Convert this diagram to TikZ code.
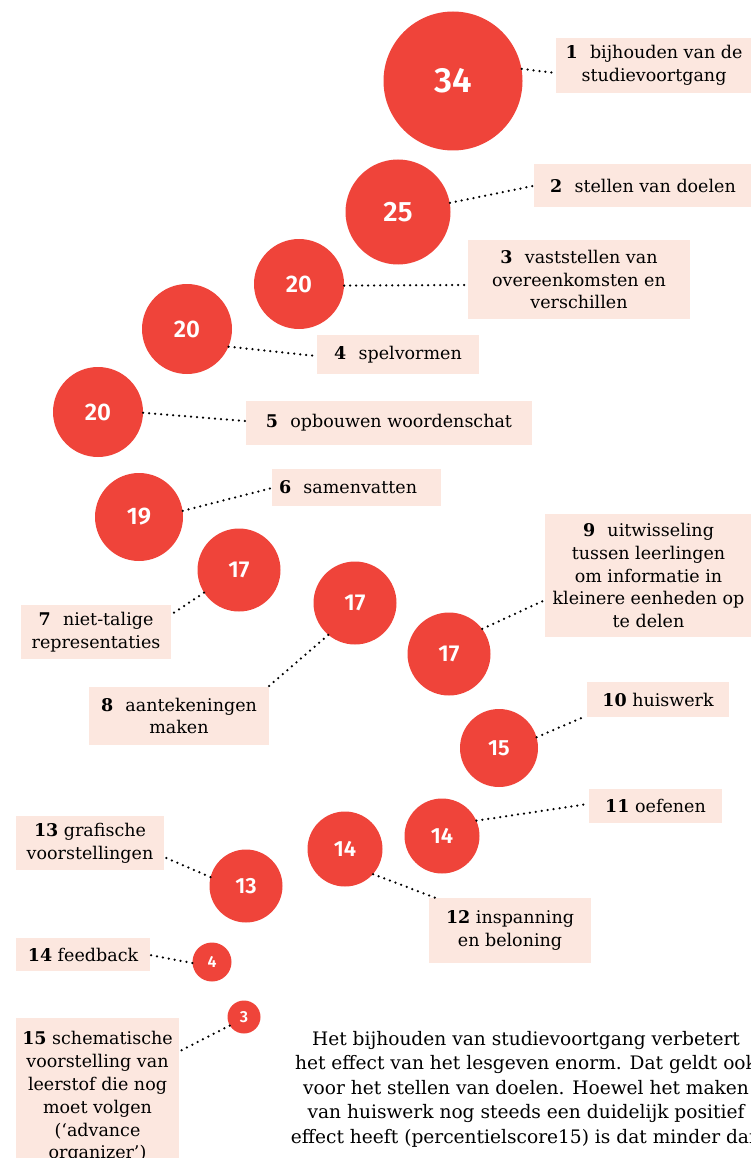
\documentclass[tikz,border=0pt]{standalone}
\usepackage{fontspec}
\setmainfont{DejaVu Serif}
\newfontfamily\numfont{Fira Sans SemiBold}

\definecolor{dotred}{HTML}{EF443A}
\definecolor{tagbg}{HTML}{FCE7DF}

\newcommand\nr[1]{\textbf{#1}}
\newcommand\gap{\hspace{0.7em}}

\tikzset{
  bubble/.style n args={2}{circle, fill=dotred, inner sep=0pt,
    minimum size=#1, text=white,
    font=\numfont\fontsize{#2}{#2}\selectfont},
  tag/.style n args={2}{fill=tagbg, align=center, inner sep=0pt,
    minimum width=#1, minimum height=#2,
    font=\fontsize{17.5}{22.8}\selectfont},
  leader/.style={line width=2.5pt, dash pattern=on 0pt off 6pt,
    line cap=round},
  prose/.style={align=center, inner sep=0pt,
    font=\fontsize{18.6}{24.5}\selectfont},
}

\begin{document}
\begin{tikzpicture}[x=1pt, y=-1pt]
  \useasboundingbox (0,0) rectangle (751,1158);
  \clip (0,0) rectangle (751,1158);

  % effect bubbles
  \node[bubble={139pt}{35}] (c1)  at (453,81)   {34};
  \node[bubble={105pt}{28}] (c2)  at (398,212)  {25};
  \node[bubble={90pt}{24}]  (c3)  at (299,284)  {20};
  \node[bubble={90pt}{24}]  (c4)  at (187,329)  {20};
  \node[bubble={90pt}{24}]  (c5)  at (98,412)   {20};
  \node[bubble={88pt}{24}]  (c6)  at (139,517)  {19};
  \node[bubble={83pt}{23}]  (c7)  at (239,570)  {17};
  \node[bubble={83pt}{23}]  (c8)  at (355,603)  {17};
  \node[bubble={83pt}{23}]  (c9)  at (449,654)  {17};
  \node[bubble={78pt}{22}]  (c10) at (499,748)  {15};
  \node[bubble={75pt}{22}]  (c11) at (442,836)  {14};
  \node[bubble={75pt}{22}]  (c12) at (345,849)  {14};
  \node[bubble={73pt}{22}]  (c13) at (246,886)  {13};
  \node[bubble={39pt}{16}]  (c14) at (212,962)  {4};
  \node[bubble={33pt}{16}]  (c15) at (244,1017) {3};

  % labels
  \node[tag={196pt}{55pt}]  (l1)  at (654,65.5)  {\nr{1}\gap bijhouden van de\\studievoortgang};
  \node[tag={218pt}{43pt}]  (l2)  at (643,185.5) {\nr{2}\gap stellen van doelen};
  \node[tag={222pt}{79pt}]  (l3)  at (579,279.5) {\nr{3}\gap vaststellen van\\overeenkomsten en\\verschillen};
  \node[tag={162pt}{39pt}]  (l4)  at (398,354.5) {\nr{4}\gap spelvormen};
  \node[tag={286pt}{44pt}]  (l5)  at (389,423)   {\nr{5}\gap opbouwen woordenschat};
  \node[tag={169pt}{37pt}, align=left, text width=155pt, inner xsep=7pt]
                            (l6)  at (356.5,487.5) {\nr{6}\gap samenvatten};
  \node[tag={150pt}{54pt}]  (l7)  at (96,632)    {\nr{7}\gap niet-talige\\representaties};
  \node[tag={180pt}{58pt}]  (l8)  at (179,716)   {\nr{8}\gap aantekeningen\\maken};
  \node[tag={207pt}{123pt}] (l9)  at (648.5,575.5) {\nr{9}\gap uitwisseling\\tussen leerlingen\\om informatie in\\kleinere eenheden op\\te delen};
  \node[tag={142pt}{35pt}]  (l10) at (658,699.5) {\nr{10} huiswerk};
  \node[tag={133pt}{34pt}]  (l11) at (655.5,806) {\nr{11} oefenen};
  \node[tag={162pt}{65pt}]  (l12) at (510,930.5) {\nr{12} inspanning\\en beloning};
  \node[tag={148pt}{54pt}]  (l13) at (90,843)    {\nr{13} grafische\\voorstellingen};
  \node[tag={134pt}{33pt}]  (l14) at (83,954.5)  {\nr{14} feedback};
  \node[tag={163pt}{158pt}, anchor=north] (l15) at (97.5,1018)
    {\nr{15} schematische\\voorstelling van\\leerstof die nog\\moet volgen\\(‘advance\\organizer’)};

  % free ends of the leaders, on the label edges
  \coordinate (e1)  at (556,73);
  \coordinate (e2)  at (533,186);
  \coordinate (e3)  at (467,285);
  \coordinate (e4)  at (316,356);
  \coordinate (e5)  at (245,421);
  \coordinate (e6)  at (272,488);
  \coordinate (e7)  at (172,614);
  \coordinate (e8)  at (269,686);
  \coordinate (e9)  at (545,600);
  \coordinate (e10) at (586,716);
  \coordinate (e11) at (588,804);
  \coordinate (e12) at (436,898);
  \coordinate (e13) at (164,857);
  \coordinate (e14) at (150,955);
  \coordinate (e15) at (180,1051);

  % dotted leaders
  \draw[leader] (c1.10)   -- (e1);
  \draw[leader] (c2.10)   -- (e2);
  \draw[leader] (c3.-2)   -- (e3);
  \draw[leader] (c4.-23)  -- (e4);
  \draw[leader] (c5.-1)   -- (e5);
  \draw[leader] (c6.8)    -- (e6);
  \draw[leader] (c7.213)  -- (e7);
  \draw[leader] (c8.230)  -- (e8);
  \draw[leader] (c9.37)   -- (e9);
  \draw[leader] (c10.16)  -- (e10);
  \draw[leader] (c11.24)  -- (e11);
  \draw[leader] (c12.-42) -- (e12);
  \draw[leader] (c13.166) -- (e13);
  \draw[leader] (c14.183) -- (e14);
  \draw[leader] (c15.211) -- (e15);

  % running text
  \node[prose, anchor=north] (txt) at (526,1031)
    {Het bijhouden van studievoortgang verbetert\\
     het effect van het lesgeven enorm. Dat geldt ook\\
     voor het stellen van doelen. Hoewel het maken\\
     van huiswerk nog steeds een duidelijk positief\\
     effect heeft (percentielscore15) is dat minder dan};
\end{tikzpicture}
\end{document}
